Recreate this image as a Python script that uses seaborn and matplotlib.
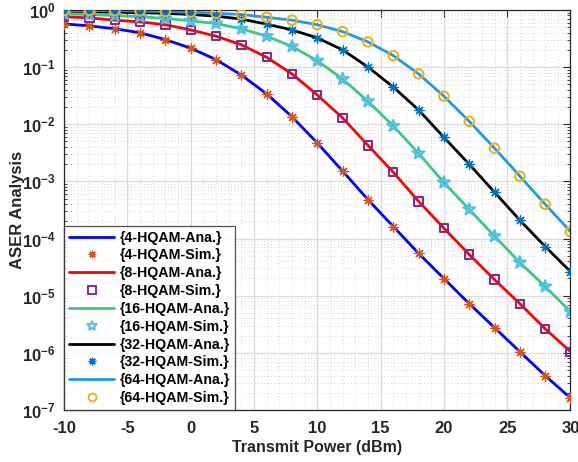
import numpy as np
import pandas as pd
import seaborn as sns
import matplotlib
matplotlib.use("Agg")
import matplotlib.pyplot as plt
from matplotlib.lines import Line2D
from matplotlib.ticker import LogLocator, MultipleLocator, FuncFormatter, NullFormatter

# ---- data (log10 of ASER) ----
power = [-10, -8, -6, -4, -2, 0, 2, 4, 6, 8, 10, 12, 14, 16, 18, 20, 22, 24, 26, 28, 30]
log_4 = [-0.245, -0.28, -0.33, -0.40, -0.52, -0.67, -0.87, -1.14, -1.47, -1.87, -2.33,
         -2.82, -3.32, -3.79, -4.26, -4.70, -5.14, -5.56, -5.98, -6.40, -6.79]
log_8 = [-0.12, -0.14, -0.18, -0.21, -0.26, -0.35, -0.46, -0.61, -0.83, -1.12, -1.49,
         -1.89, -2.37, -2.84, -3.35, -3.82, -4.28, -4.72, -5.14, -5.58, -5.98]
log_16 = [-0.07, -0.08, -0.10, -0.12, -0.15, -0.19, -0.24, -0.33, -0.46, -0.64, -0.89,
          -1.21, -1.60, -2.03, -2.51, -3.02, -3.49, -3.96, -4.42, -4.84, -5.28]
log_32 = [-0.02, -0.03, -0.04, -0.05, -0.06, -0.08, -0.11, -0.16, -0.25, -0.35, -0.49,
          -0.70, -1.00, -1.35, -1.75, -2.23, -2.70, -3.19, -3.68, -4.14, -4.58]
log_64 = [-0.01, -0.012, -0.015, -0.02, -0.03, -0.04, -0.06, -0.08, -0.13, -0.18, -0.26,
          -0.38, -0.56, -0.80, -1.12, -1.51, -1.95, -2.42, -2.91, -3.40, -3.88]

orders = ["4", "8", "16", "32", "64"]
series = [log_4, log_8, log_16, log_32, log_64]
line_colors = ["#0000FF", "#FF0000", "#3CC882", "#000000", "#1E9BE6"]
mk_colors = ["#D95319", "#7E2F8E", "#4DBEEE", "#0072BD", "#EDB120"]
markers = [(8, 2, 0), "s", "*", (8, 2, 0), "o"]
mk_sizes = [6.5, 6.0, 9.0, 6.5, 6.8]
mk_open = [False, True, True, False, True]

rows = []
for o, s in zip(orders, series):
    for p, v in zip(power, s):
        rows.append({"order": o, "power": p, "aser": 10 ** v})
df = pd.DataFrame(rows)

sns.set_theme(style="white")
plt.rcParams["font.family"] = ["Liberation Sans", "DejaVu Sans"]
plt.rcParams["font.weight"] = "bold"
plt.rcParams["mathtext.fontset"] = "custom"
plt.rcParams["mathtext.rm"] = "Liberation Sans"
plt.rcParams["mathtext.bf"] = "Liberation Sans:bold"
plt.rcParams["mathtext.default"] = "bf"
plt.rcParams["axes.unicode_minus"] = False

fig = plt.figure(figsize=(5.78, 4.62), dpi=100)
ax = fig.add_axes([0.111, 0.1126, 0.876, 0.866])

handles = []
labels = []
for o, lc, mc, m, ms, op in zip(orders, line_colors, mk_colors, markers, mk_sizes, mk_open):
    sub = df[df["order"] == o]
    sns.lineplot(data=sub, x="power", y="aser", ax=ax, color=lc, linewidth=2.0,
                 estimator=None, legend=False, zorder=2)
    if op:
        sns.scatterplot(data=sub, x="power", y="aser", ax=ax, marker=m, s=ms ** 2,
                        facecolors="none", edgecolors=mc, linewidths=1.5,
                        legend=False, zorder=3)
    else:
        sns.scatterplot(data=sub, x="power", y="aser", ax=ax, marker=m, s=ms ** 2,
                        color=mc, edgecolors=mc, linewidths=0.9,
                        legend=False, zorder=3)
    handles.append(Line2D([], [], color=lc, linewidth=2.0))
    handles.append(Line2D([], [], linestyle="none", marker=m, markersize=ms * 0.85,
                          markeredgecolor=mc, markeredgewidth=1.4 if op else 0.9,
                          markerfacecolor="none" if op else mc))
    labels += ["{%s-HQAM-Ana.}" % o, "{%s-HQAM-Sim.}" % o]

ax.set_yscale("log")
ax.set_xlim(-10, 30)
ax.set_ylim(1e-7, 1.0)

ax.xaxis.set_major_locator(MultipleLocator(5))
ax.xaxis.set_minor_locator(MultipleLocator(1))
ax.yaxis.set_major_locator(LogLocator(base=10, numticks=20))
ax.yaxis.set_minor_locator(LogLocator(base=10, subs=np.arange(2, 10), numticks=20))
ax.yaxis.set_minor_formatter(NullFormatter())
ax.yaxis.set_major_formatter(FuncFormatter(lambda v, p: r"$\mathbf{10^{%d}}$" % int(round(np.log10(v)))))

ax.grid(True, which="major", color="#DCDCDC", linewidth=0.9, linestyle="-")
ax.grid(True, which="minor", color="#C8C8C8", linewidth=0.6, linestyle=(0, (1, 3)))
ax.set_axisbelow(True)

ax.tick_params(axis="both", which="major", direction="in", length=5, width=0.8,
               top=True, right=True, labelsize=12, colors="#262626")
ax.tick_params(axis="x", which="major", pad=8)
ax.tick_params(axis="y", which="major", pad=6, labelsize=12)
ax.tick_params(axis="y", which="minor", direction="in", length=2.5, width=0.6,
               left=True, right=True)
ax.tick_params(axis="x", which="minor", length=0)
for lab in ax.get_xticklabels() + ax.get_yticklabels():
    lab.set_fontweight("bold")
for sp in ax.spines.values():
    sp.set_color("#262626")
    sp.set_linewidth(0.9)

ax.set_xlabel("Transmit Power (dBm)", fontsize=11.5, fontweight="bold", color="#262626", labelpad=3)
ax.set_ylabel("ASER Analysis", fontsize=12, fontweight="bold", color="#262626")
ax.yaxis.set_label_coords(-0.078, 0.5)

leg = ax.legend(handles, labels, loc="lower left", fontsize=10.2, frameon=True,
                fancybox=False, borderaxespad=0.0, handlelength=3.2,
                labelspacing=0.27, borderpad=0.35, handletextpad=0.35)
leg.get_frame().set_edgecolor("#262626")
leg.get_frame().set_linewidth(0.9)
for t in leg.get_texts():
    t.set_fontweight("bold")
    t.set_color("#000000")

fig.savefig("out.png", dpi=100)
